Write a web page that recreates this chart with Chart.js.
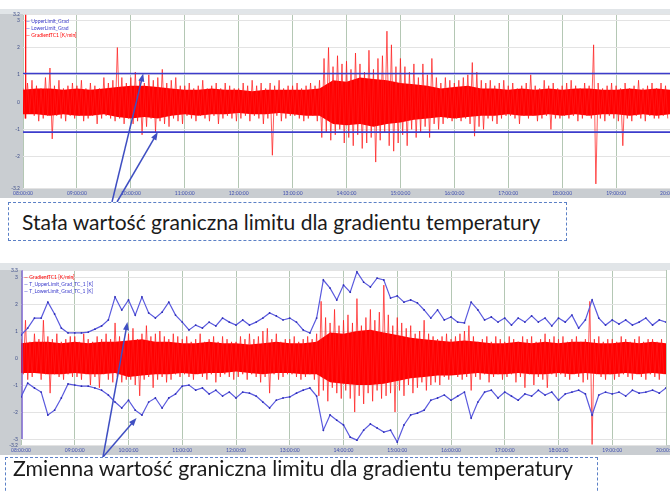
<!DOCTYPE html>
<html>
<head>
<meta charset="utf-8">
<script src="https://cdn.jsdelivr.net/npm/chart.js@4.4.1/dist/chart.umd.min.js"></script>
<style>
  body { margin: 0; background: #fff; width: 670px; height: 492px; overflow: hidden; position: relative; }
  canvas { position: absolute; left: 0; }
  #topChart { top: 8px; }
  #bottomChart { top: 262px; }
  .note {
    position: absolute; background: #fff; border: 1px dashed #5b80c6; box-sizing: border-box;
    font-family: Lato, "Open Sans", sans-serif; font-size: 21px; line-height: 21px; color: #1b1b1b; white-space: nowrap;
  }
  #note1 { left: 8px; top: 202px; width: 559px; height: 39px; padding: 8px 0 0 13px; }
  #note2 { left: 5px; top: 457px; width: 593px; height: 44px; padding: 0 0 0 7px; font-size: 21.3px; }
</style>
</head>
<body>
<canvas id="topChart" width="670" height="196"></canvas>
<canvas id="bottomChart" width="670" height="198"></canvas>
<div class="note" id="note1">Stała wartość graniczna limitu dla gradientu temperatury</div>
<div class="note" id="note2">Zmienna wartość graniczna limitu dla gradientu temperatury</div>
<script>
// time axis: hours 08:00 .. 20:00
const hourStart = 8;
const hourEnd = 20;
const samplesPerHour = 24;   // red gradient signal (spikes)
const corePerHour = 4;       // dense part of the red signal
const limitPerHour = 8;      // blue variable limits

// top panel - temperature gradient, one row per hour
const sigTop = [
  0.5,-0.6,0.7,-0.4,0.8,-0.5,0.6,-0.7,0.5,-0.6,0.9,-0.5,1.25,-1.35,0.6,-0.5,0.8,-0.6,0.5,-0.7,0.6,-0.5,0.7,-0.6,
  0.6,-0.5,0.8,-0.7,0.5,-0.6,0.7,-0.5,0.6,-0.8,0.5,-0.6,0.9,-0.5,0.7,-0.6,0.8,-0.7,2.0,-0.6,0.9,-0.8,0.7,-0.6,
  0.9,-0.8,1.1,-0.7,0.8,-1.2,0.7,-0.9,1.0,-0.6,0.8,-1.1,0.9,-0.7,1.2,-0.8,0.7,-0.9,0.8,-0.6,0.9,-0.7,0.6,-0.8,
  0.6,-0.5,0.7,-0.6,0.5,-0.7,0.6,-0.5,0.8,-0.6,0.5,-0.7,0.6,-0.5,0.7,-0.8,0.5,-0.6,0.7,-0.5,0.6,-0.6,0.5,-0.7,
  0.5,-0.6,0.7,-0.5,0.6,-0.7,0.8,-0.5,0.6,-0.6,0.7,-0.8,0.5,-0.6,0.7,-1.95,0.6,-0.5,0.8,-0.7,0.5,-0.6,0.6,-0.5,
  0.6,-0.5,0.7,-0.6,0.5,-0.7,0.6,-0.6,0.7,-0.5,0.6,-0.7,0.8,-1.3,1.6,-1.1,2.0,-1.4,1.3,-1.2,1.7,-1.0,1.4,-1.5,
  1.5,-1.3,1.2,-1.6,1.8,-1.2,1.4,-1.7,1.1,-1.5,1.9,-1.3,1.2,-2.2,1.6,-1.4,1.7,-1.1,2.6,-1.6,2.1,-1.8,1.3,-1.5,
  1.6,-1.2,1.3,-1.6,1.1,-1.0,1.4,-1.3,0.9,-1.1,1.4,-0.9,1.0,-1.3,1.6,-0.8,0.9,-1.0,0.7,-0.8,0.9,-0.6,0.8,-0.7,
  0.7,-0.6,0.8,-0.7,0.9,-0.6,1.0,-0.8,1.45,-1.25,1.1,-0.9,0.8,-1.0,0.7,-0.6,0.8,-0.7,0.6,-0.8,0.7,-0.6,0.8,-0.5,
  0.6,-0.5,0.7,-0.6,0.5,-0.8,0.6,-0.5,0.7,-0.6,1.0,-0.5,0.6,-0.7,0.5,-0.6,0.8,-0.5,0.6,-1.0,0.7,-0.6,0.5,-0.6,
  0.6,-0.5,0.7,-0.6,0.8,-0.5,0.6,-0.7,0.5,-0.6,0.7,-0.5,0.6,-0.6,2.1,-3.0,0.7,-0.6,0.5,-0.7,0.6,-0.5,0.7,-0.6,
  0.6,-0.7,0.5,-1.6,0.7,-0.6,0.5,-0.7,0.6,-0.5,0.8,-0.6,0.5,-0.7,0.6,-0.5,0.7,-0.6,0.5,-0.6,0.7,-0.5,0.6,-0.6
];
const coreTopHi = [
  0.45,0.5,0.5,0.45, 0.5,0.45,0.5,0.55, 0.6,0.6,0.55,0.5, 0.45,0.45,0.5,0.45,
  0.45,0.4,0.45,0.45, 0.45,0.45,0.5,0.8, 0.75,0.9,0.85,0.8, 0.7,0.65,0.6,0.5,
  0.55,0.6,0.5,0.5, 0.45,0.5,0.45,0.5, 0.45,0.5,0.5,0.45, 0.45,0.5,0.45,0.5, 0.45
];
const coreTopLo = [
  -0.45,-0.45,-0.5,-0.45, -0.5,-0.5,-0.45,-0.55, -0.6,-0.55,-0.6,-0.5, -0.45,-0.5,-0.45,-0.45,
  -0.4,-0.45,-0.45,-0.4, -0.45,-0.5,-0.5,-0.8, -0.85,-0.8,-0.9,-0.8, -0.75,-0.65,-0.6,-0.55,
  -0.6,-0.55,-0.5,-0.5, -0.45,-0.5,-0.5,-0.45, -0.5,-0.45,-0.5,-0.45, -0.45,-0.5,-0.45,-0.5, -0.45
];
const fixedUpper = 1.05;
const fixedLower = -1.1;

// bottom panel - same gradient, with moving limits
const sigBottom = [
  0.7,-0.6,1.4,-0.8,0.6,-0.7,0.9,-0.5,0.7,-0.8,1.4,-0.6,0.8,-1.3,0.7,-0.6,0.9,-0.7,0.6,-0.8,0.7,-0.6,0.8,-0.7,
  0.8,-0.7,0.6,-0.8,0.9,-0.6,0.7,-1.0,0.6,-0.7,0.8,-1.1,0.7,-0.6,0.9,-0.8,0.7,-0.9,1.3,-0.7,0.8,-0.9,0.6,-0.8,
  0.9,-0.8,1.1,-1.0,0.7,-1.4,0.9,-0.8,1.2,-0.7,0.8,-1.1,0.9,-0.8,1.0,-0.7,0.8,-0.9,0.7,-0.8,0.9,-0.6,0.8,-0.7,
  0.7,-0.6,0.8,-0.7,0.6,-0.8,0.7,-0.6,0.9,-0.7,0.6,-0.8,0.7,-0.6,0.8,-0.9,0.6,-0.7,0.8,-0.6,0.7,-0.7,0.6,-0.8,
  0.6,-0.7,0.8,-0.6,0.7,-0.8,0.9,-0.6,0.7,-0.7,0.8,-0.9,1.0,-0.7,1.1,-1.3,0.7,-0.6,0.9,-0.8,0.6,-0.7,0.7,-0.6,
  0.7,-0.6,0.8,-0.7,0.6,-0.8,0.7,-0.7,0.8,-0.6,0.7,-0.8,0.9,-1.4,2.1,-1.2,1.5,-1.6,1.3,-1.1,1.8,-1.3,1.2,-1.5,
  1.4,-1.2,1.6,-1.5,1.3,-2.0,2.2,-1.4,1.2,-1.7,1.5,-1.3,1.8,-1.6,1.4,-1.2,1.7,-1.5,2.7,-1.4,1.6,-1.3,1.2,-2.0,
  1.5,-1.2,1.3,-1.4,1.1,-1.0,1.2,-1.3,0.9,-1.1,1.0,-0.9,1.4,-1.2,0.9,-1.0,0.8,-0.9,0.7,-1.0,0.8,-0.7,0.9,-0.8,
  0.7,-0.6,0.8,-0.7,0.9,-0.8,1.0,-0.7,1.2,-1.2,0.8,-0.7,0.6,-0.8,0.7,-0.6,0.8,-0.9,0.6,-0.7,0.8,-0.6,0.7,-0.8,
  0.6,-0.7,0.8,-0.6,0.7,-0.9,0.6,-0.7,0.8,-1.1,0.7,-0.6,0.8,-1.0,0.6,-0.7,0.7,-0.8,0.9,-1.1,0.7,-0.6,0.8,-0.7,
  0.7,-0.6,0.8,-0.7,0.6,-0.8,0.7,-0.6,0.8,-0.7,0.6,-0.9,0.7,-0.8,2.1,-3.2,0.7,-0.6,0.8,-0.7,0.6,-0.8,0.7,-0.6,
  0.7,-0.8,0.6,-0.7,0.8,-0.6,0.7,-0.7,0.6,-0.8,0.7,-0.6,0.8,-0.7,0.6,-0.8,0.7,-0.6,0.7,-0.7,0.6,-0.8,0.7,-0.6
];
const coreBottomHi = [
  0.55,0.6,0.6,0.55, 0.6,0.55,0.6,0.6, 0.65,0.7,0.6,0.6, 0.55,0.55,0.6,0.55,
  0.55,0.5,0.55,0.6, 0.55,0.55,0.6,0.95, 0.9,1.0,1.05,0.95, 0.85,0.75,0.7,0.65,
  0.6,0.65,0.6,0.55, 0.55,0.6,0.55,0.6, 0.55,0.6,0.6,0.55, 0.55,0.6,0.55,0.6, 0.55
];
const coreBottomLo = [
  -0.55,-0.55,-0.6,-0.6, -0.55,-0.6,-0.6,-0.55, -0.7,-0.65,-0.6,-0.6, -0.55,-0.6,-0.55,-0.55,
  -0.5,-0.55,-0.6,-0.55, -0.55,-0.6,-0.6,-0.9, -0.95,-1.0,-1.0,-0.95, -0.85,-0.75,-0.7,-0.65,
  -0.65,-0.6,-0.55,-0.6, -0.6,-0.55,-0.6,-0.6, -0.55,-0.6,-0.55,-0.6, -0.6,-0.55,-0.6,-0.55, -0.6
];
const upperLimit = [
  0.85,1.11,1.48,1.48,2.07,1.63,1.11,0.93,
  0.93,0.93,0.96,1.07,1.19,1.41,2.26,1.78,
  2.15,1.59,2.26,1.67,1.48,1.70,2.07,1.59,
  1.33,1.04,1.22,1.11,1.33,1.19,1.48,1.33,
  1.22,1.41,1.22,1.33,1.48,1.67,1.56,1.41,
  1.48,1.33,1.04,0.93,1.48,2.89,2.59,2.15,
  2.70,2.44,3.19,2.81,2.63,2.96,2.89,2.22,
  2.30,2.07,2.15,2.04,1.78,1.48,1.78,1.41,
  1.52,1.33,1.30,2.07,1.78,1.41,1.52,1.33,
  1.48,1.22,1.48,1.33,1.56,1.33,1.48,1.19,
  1.48,1.33,1.59,1.11,1.41,2.15,1.48,1.22,
  1.41,1.26,1.41,1.22,1.33,1.48,1.22,1.41,
  1.33
];
const lowerLimit = [
  -1.44,-0.93,-1.11,-1.26,-2.11,-1.93,-1.48,-0.96,
  -1.00,-1.04,-1.04,-1.11,-1.19,-1.37,-1.63,-1.85,
  -1.56,-1.93,-2.11,-1.63,-1.48,-1.85,-1.48,-1.33,
  -1.04,-1.00,-1.19,-1.11,-1.33,-1.19,-1.41,-1.26,
  -1.48,-1.26,-1.30,-1.41,-1.63,-1.85,-1.56,-1.48,
  -1.44,-1.30,-1.19,-1.11,-1.41,-2.67,-2.11,-2.30,
  -2.48,-2.93,-3.04,-2.67,-2.44,-2.59,-2.74,-2.67,
  -3.11,-2.48,-2.11,-2.04,-1.93,-1.56,-1.48,-1.37,
  -1.56,-1.41,-1.26,-2.22,-1.63,-1.26,-1.19,-1.48,
  -1.26,-1.41,-1.56,-1.33,-1.41,-1.19,-1.37,-1.26,
  -1.56,-1.33,-1.26,-1.19,-1.33,-2.11,-1.37,-1.26,
  -1.33,-1.26,-1.41,-1.19,-1.30,-1.26,-1.19,-1.30,
  -1.11
];

const legendTop = ['UpperLimit_Grad', 'LowerLimit_Grad', 'GradientTC1 [K/min]'];
const legendBottom = ['GradientTC1 [K/min]', 'T_UpperLimit_Grad_TC_1 [K]', 'T_LowerLimit_Grad_TC_1 [K]'];

const RED = '#ff0000';
const SPIKE = 'rgba(255,25,25,0.8)';
const BLUE = '#3c3ccc';

function series(values, perHour) {
  return values.map((v, i) => ({ x: hourStart + i / perHour, y: v }));
}

function timeLabel(v) {
  return (v < 10 ? '0' : '') + v + ':00:00';
}

// gray instrument frame behind the plot, small legend and the arrows
const framePlugin = {
  id: 'frame',
  beforeDraw(chart, args, opts) {
    const c = chart.ctx, a = chart.chartArea;
    c.save();
    c.fillStyle = '#e1e5e8';
    c.fillRect(0, a.top - opts.frameTop, chart.width, opts.frameTop);
    c.fillStyle = '#c9cdd1';
    c.fillRect(0, a.top, a.left, a.bottom - a.top);
    c.fillRect(0, a.bottom, chart.width, 10);
    c.fillStyle = '#fff';
    c.fillRect(a.left, a.top, a.right - a.left, a.bottom - a.top);
    c.restore();
  },
  afterDraw(chart, args, opts) {
    const c = chart.ctx, a = chart.chartArea;
    const xs = chart.scales.x, ys = chart.scales.y;
    c.save();
    c.font = '5px Lato';
    opts.legend.forEach((txt, i) => {
      c.fillStyle = opts.legendColors[i];
      c.fillText('— ' + txt, a.left + 3, a.top + 9 + i * 7);
    });
    c.strokeStyle = '#3f4fc2';
    c.fillStyle = '#3f4fc2';
    c.lineWidth = 1.5;
    opts.arrows.forEach(ar => {
      const tx = xs.getPixelForValue(ar.tipX), ty = ys.getPixelForValue(ar.tipY);
      const ang = Math.atan2(ty - ar.tailY, tx - ar.tailX);
      c.beginPath();
      c.moveTo(ar.tailX, ar.tailY);
      c.lineTo(tx - 5 * Math.cos(ang), ty - 5 * Math.sin(ang));
      c.stroke();
      c.beginPath();
      c.moveTo(tx, ty);
      c.lineTo(tx - 8 * Math.cos(ang) + 3 * Math.sin(ang), ty - 8 * Math.sin(ang) - 3 * Math.cos(ang));
      c.lineTo(tx - 8 * Math.cos(ang) - 3 * Math.sin(ang), ty - 8 * Math.sin(ang) + 3 * Math.cos(ang));
      c.closePath();
      c.fill();
    });
    c.restore();
  }
};

function makeChart(id, datasets, cfg) {
  return new Chart(document.getElementById(id), {
    type: 'line',
    data: { datasets: datasets },
    plugins: [framePlugin],
    options: {
      responsive: false,
      animation: false,
      devicePixelRatio: 1,
      layout: { padding: { top: cfg.padTop, bottom: cfg.padBottom, left: 0, right: 0 } },
      elements: { line: { tension: 0 }, point: { radius: 0 } },
      plugins: {
        legend: { display: false },
        tooltip: { enabled: false },
        frame: cfg.frame
      },
      scales: {
        x: {
          type: 'linear', min: hourStart, max: hourEnd,
          afterFit: s => { s.height = 10; s.paddingLeft = 0; s.paddingRight = 0; },
          grid: { color: '#b4c7b4', drawTicks: false },
          border: { display: false },
          ticks: {
            stepSize: 1, autoSkip: false, maxRotation: 0, padding: 2,
            font: { size: 5, family: 'Lato' }, color: '#4050b0',
            callback: timeLabel
          }
        },
        y: {
          min: cfg.yMin, max: cfg.yMax,
          afterFit: s => { s.width = cfg.yWidth; },
          grid: { color: '#e3e3e3', drawTicks: false },
          border: { display: false },
          ticks: {
            stepSize: 1, padding: 3,
            font: { size: 5, family: 'Lato' }, color: '#40508a'
          }
        }
      }
    }
  });
}

makeChart('topChart', [
  { data: series(coreTopHi, corePerHour), borderWidth: 0, backgroundColor: RED, fill: '+1', order: 5 },
  { data: series(coreTopLo, corePerHour), borderWidth: 0, order: 5 },
  { data: series(sigTop, samplesPerHour), borderColor: SPIKE, borderWidth: 0.9, order: 4 },
  { data: [{ x: hourStart, y: fixedUpper }, { x: hourEnd, y: fixedUpper }], borderColor: BLUE, borderWidth: 1.6, order: 1 },
  { data: [{ x: hourStart, y: fixedLower }, { x: hourEnd, y: fixedLower }], borderColor: BLUE, borderWidth: 1.6, order: 1 },
  { data: [{ x: 8.05, y: 3.2 }, { x: 8.05, y: -0.6 }], borderColor: RED, borderWidth: 1.2, order: 3 }
], {
  padTop: 5, padBottom: 6, yMin: -3.15, yMax: 3.23, yWidth: 23,
  frame: {
    frameTop: 5,
    legend: legendTop, legendColors: [BLUE, BLUE, RED],
    arrows: [
      { tipX: 10.23, tipY: fixedUpper, tailX: 112, tailY: 194 },
      { tipX: 10.5, tipY: fixedLower, tailX: 117, tailY: 194 }
    ]
  }
});

makeChart('bottomChart', [
  { data: series(coreBottomHi, corePerHour), borderWidth: 0, backgroundColor: RED, fill: '+1', order: 5 },
  { data: series(coreBottomLo, corePerHour), borderWidth: 0, order: 5 },
  { data: series(sigBottom, samplesPerHour), borderColor: SPIKE, borderWidth: 0.9, order: 4 },
  { data: series(upperLimit, limitPerHour), borderColor: '#5a5ade', borderWidth: 1.2, order: 1,
    pointRadius: 0.9, pointBackgroundColor: '#2d2db4', pointBorderWidth: 0 },
  { data: series(lowerLimit, limitPerHour), borderColor: '#5a5ade', borderWidth: 1.2, order: 1,
    pointRadius: 0.9, pointBackgroundColor: '#2d2db4', pointBorderWidth: 0 },
  { data: [{ x: 8.02, y: 3.25 }, { x: 8.02, y: -3.0 }], borderColor: '#6a4ad0', borderWidth: 1.2, order: 2 }
], {
  padTop: 8, padBottom: 5, yMin: -3.22, yMax: 3.26, yWidth: 21,
  frame: {
    frameTop: 7,
    legend: legendBottom, legendColors: [RED, BLUE, BLUE],
    arrows: [
      { tipX: 9.98, tipY: 1.33, tailX: 103, tailY: 195 },
      { tipX: 10.15, tipY: -2.22, tailX: 103, tailY: 195 }
    ]
  }
});
</script>
</body>
</html>
